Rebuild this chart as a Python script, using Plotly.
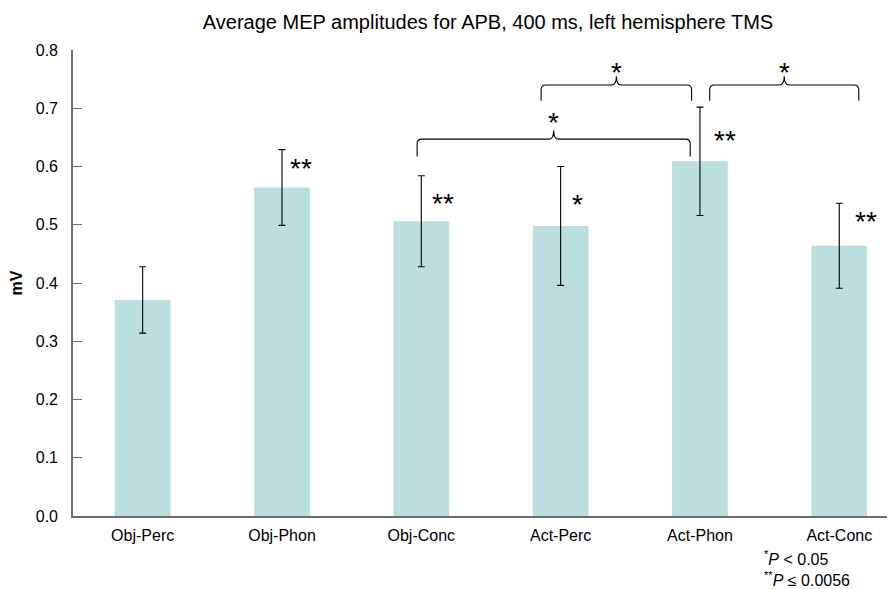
import plotly.graph_objects as go

categories = ["Obj-Perc", "Obj-Phon", "Obj-Conc", "Act-Perc", "Act-Phon", "Act-Conc"]
means = [0.371, 0.564, 0.506, 0.498, 0.609, 0.464]
errors = [0.057, 0.065, 0.078, 0.102, 0.093, 0.073]
bar_stars = ["", "**", "**", "*", "**", "**"]
star_x = [0, 1.045, 2.06, 3.07, 4.09, 5.10]
star_y = [0, 0.596, 0.536, 0.534, 0.644, 0.506]

# comparison brackets: (x start, x end, bracket level, end level, label)
brackets = [
    (1.97, 3.93, 0.647, 0.617, "*"),
    (2.86, 3.94, 0.740, 0.713, "*"),
    (4.07, 5.14, 0.740, 0.713, "*"),
]
bracket_star_y = [0.676, 0.762, 0.762]

x = list(range(len(categories)))
FONT = "Arial, Liberation Sans, sans-serif"

fig = go.Figure()
fig.add_trace(go.Bar(
    x=x, y=means, width=0.4,
    marker=dict(color="rgb(187,222,222)", line=dict(width=0)),
    error_y=dict(type="data", array=errors, visible=True, color="black",
                 thickness=1.1, width=3.5),
    showlegend=False,
))

annotations = []
for i, s in enumerate(bar_stars):
    if s:
        annotations.append(dict(x=star_x[i], y=star_y[i], text=s, xref="x", yref="y",
                                showarrow=False, xanchor="left", yanchor="middle",
                                font=dict(size=28, color="black", family=FONT)))

shapes = []
for k, (x0, x1, yh, ye, lab) in enumerate(brackets):
    xc = (x0 + x1) / 2
    dx = 0.035
    cy = 0.008
    dy = 0.015
    path = (f"M {x0},{ye} L {x0},{yh-cy} Q {x0},{yh} {x0+dx},{yh} "
            f"L {xc-dx},{yh} Q {xc},{yh} {xc},{yh+dy} "
            f"Q {xc},{yh} {xc+dx},{yh} "
            f"L {x1-dx},{yh} Q {x1},{yh} {x1},{yh-cy} L {x1},{ye}")
    shapes.append(dict(type="path", path=path, xref="x", yref="y",
                       line=dict(color="black", width=1.1)))
    annotations.append(dict(x=xc, y=bracket_star_y[k], text=lab, xref="x", yref="y",
                            showarrow=False, xanchor="center", yanchor="middle",
                            font=dict(size=28, color="black", family=FONT)))

annotations.append(dict(xref="paper", yref="paper", x=0.838, y=-0.161,
                        text="<sup>*</sup><i>P</i> < 0.05<br><sup>**</sup><i>P</i> ≤ 0.0056",
                        showarrow=False, xanchor="left", yanchor="bottom", align="left",
                        font=dict(size=16, color="black", family=FONT)))

fig.update_layout(
    width=887, height=581,
    margin=dict(l=65, r=0, t=42, b=73, pad=0),
    paper_bgcolor="white", plot_bgcolor="white",
    title=dict(text="Average MEP amplitudes for APB, 400 ms, left hemisphere TMS",
               x=480 / 887, xanchor="center", y=1 - 14 / 581, yanchor="middle",
               font=dict(size=20, color="black", family=FONT)),
    xaxis=dict(range=[-0.5, 5.4], tickmode="array", tickvals=x, ticktext=categories,
               showline=True, linecolor="#6e6e6e", linewidth=1.6, ticks="",
               showgrid=False, zeroline=False, ticklabelstandoff=4,
               tickfont=dict(size=16, color="black", family=FONT)),
    yaxis=dict(range=[0, 0.8], tickvals=[0, 0.1, 0.2, 0.3, 0.4, 0.5, 0.6, 0.7, 0.8],
               tickformat=".1f", showline=True, linecolor="#6e6e6e", linewidth=1.6,
               ticks="inside", ticklen=9, tickcolor="#6e6e6e", showgrid=False,
               zeroline=False, ticklabelstandoff=10,
               title=dict(text="<b>mV</b>", standoff=14,
                          font=dict(size=16, color="black", family=FONT)),
               tickfont=dict(size=16, color="black", family=FONT)),
    shapes=shapes, annotations=annotations,
)

fig.write_html("out.html")
